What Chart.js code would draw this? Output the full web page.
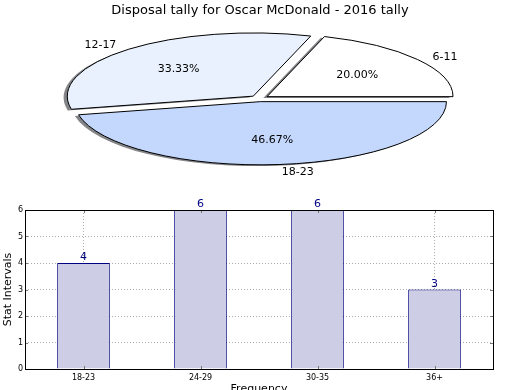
<!DOCTYPE html>
<html>
<head>
<meta charset="utf-8">
<script src="https://cdn.jsdelivr.net/npm/chart.js@4"></script>
<style>
  html, body { margin: 0; padding: 0; background: #fff; }
  body { width: 520px; height: 390px; overflow: hidden; position: relative; }
  #pieBox { position: absolute; left: 0; top: 0; width: 520px; height: 195px; }
  #barBox { position: absolute; left: 0; top: 195px; width: 520px; height: 215px; }
</style>
</head>
<body>
<div id="pieBox"><canvas id="pieChart"></canvas></div>
<div id="barBox"><canvas id="barChart"></canvas></div>
<script>
const pieTitle = "Disposal tally for Oscar McDonald - 2016 tally";
const pieLabels = ["6-11", "12-17", "18-23"];
const pieValues = [3, 5, 7];
const pieColors = ["#ffffff", "#eaf1fe", "#c4d8fe"];

const barLabels = ["18-23", "24-29", "30-35", "36+"];
const barValues = [4, 6, 6, 3];
const yTicks = [0, 1, 2, 3, 4, 5, 6];

Chart.defaults.font.family = "'DejaVu Sans', sans-serif";
Chart.defaults.color = "#000";

// where the squashed pie sits on the page
const PIE_CX = 259.5, PIE_CY = 98.5, PIE_RX = 186, PIE_RY = 63.2;
const EXPLODE = 0.05;   // slice pull-out, fraction of radius

function pieMap(arc, px, py) {
    // chart coords -> page coords, same stretch as the drawing
    const r = arc.outerRadius;
    return [PIE_CX + (px - arc.x) * PIE_RX / r, PIE_CY - (py - arc.y) * PIE_RY / r];
}

const squashPie = {
    id: "squashPie",
    beforeDatasetsDraw(chart) {
        const ctx = chart.ctx;
        const meta = chart.getDatasetMeta(0);
        const arc = meta.data[0];
        const r = arc.outerRadius;

        // pull each slice out along its middle angle (like matplotlib explode)
        meta.data.forEach(el => {
            if (el._plainDraw) return;
            el._plainDraw = el.draw;
            el.draw = function (c, area) {
                const mid = (this.startAngle + this.endAngle) / 2;
                const d = EXPLODE * this.outerRadius;
                c.save();
                c.translate(Math.cos(mid) * d, Math.sin(mid) * d);
                this._plainDraw(c, area);
                c.restore();
            };
        });

        ctx.save();
        ctx.translate(PIE_CX, PIE_CY);
        ctx.scale(PIE_RX / r, -PIE_RY / r);
        ctx.translate(-arc.x, -arc.y);
        ctx.shadowColor = "rgba(50, 52, 56, 0.6)";
        ctx.shadowOffsetX = -0.02 * PIE_RX;
        ctx.shadowOffsetY = 0.02 * PIE_RY;
        // keep outlines thin (and unshadowed) even though the pie is stretched
        ctx.stroke = function () {
            this.save();
            this.setTransform(1, 0, 0, 1, 0, 0);
            this.shadowColor = "rgba(0, 0, 0, 0)";
            CanvasRenderingContext2D.prototype.stroke.call(this);
            this.restore();
        };
    },
    afterDatasetsDraw(chart) {
        const ctx = chart.ctx;
        delete ctx.stroke;
        ctx.restore();

        const meta = chart.getDatasetMeta(0);
        const total = pieValues.reduce((a, b) => a + b, 0);
        ctx.save();
        ctx.fillStyle = "#000";
        ctx.font = "11px 'DejaVu Sans'";
        ctx.textBaseline = "middle";
        meta.data.forEach((arc, i) => {
            const mid = (arc.startAngle + arc.endAngle) / 2;
            const at = d => pieMap(arc,
                arc.x + Math.cos(mid) * (d + EXPLODE) * arc.outerRadius,
                arc.y + Math.sin(mid) * (d + EXPLODE) * arc.outerRadius);
            const [lx, ly] = at(1.1);
            ctx.textAlign = Math.cos(mid) > 0 ? "left" : "right";
            ctx.fillText(pieLabels[i], lx, ly + 1);
            const [px, py] = at(0.6);
            ctx.textAlign = "center";
            ctx.fillText((pieValues[i] / total * 100).toFixed(2) + "%", px, py + 1);
        });
        ctx.restore();
    }
};

new Chart(document.getElementById("pieChart"), {
    type: "pie",
    data: {
        labels: pieLabels,
        datasets: [{
            data: pieValues,
            backgroundColor: pieColors,
            borderColor: "#000",
            borderWidth: 1,
            clip: false
        }]
    },
    options: {
        responsive: true,
        maintainAspectRatio: false,
        animation: false,
        events: [],
        rotation: 90,
        layout: { padding: 0 },
        plugins: {
            legend: { display: false },
            tooltip: { enabled: false },
            title: {
                display: true,
                text: pieTitle,
                color: "#000",
                font: { size: 13, weight: "normal" },
                padding: { top: 3, bottom: 4 }
            }
        }
    },
    plugins: [squashPie]
});

// black box round the plot, small inward ticks, value labels over bars
const barExtras = {
    id: "barExtras",
    afterDraw(chart) {
        const { ctx, chartArea: a, scales } = chart;
        ctx.save();
        ctx.strokeStyle = "#777";
        ctx.lineWidth = 1;
        ctx.beginPath();
        yTicks.forEach(v => {
            const y = Math.round(scales.y.getPixelForValue(v)) + 0.5;
            ctx.moveTo(a.left, y); ctx.lineTo(a.left + 3, y);
            ctx.moveTo(a.right, y); ctx.lineTo(a.right - 3, y);
        });
        barLabels.forEach((_, i) => {
            const x = Math.round(scales.x.getPixelForValue(i)) + 0.5;
            ctx.moveTo(x, a.bottom); ctx.lineTo(x, a.bottom - 3);
            ctx.moveTo(x, a.top); ctx.lineTo(x, a.top + 3);
        });
        ctx.stroke();

        ctx.strokeStyle = "#000";
        ctx.strokeRect(a.left + 0.5, a.top + 0.5, a.right - a.left, a.bottom - a.top);

        ctx.fillStyle = "#000080";
        ctx.font = "11px 'DejaVu Sans'";
        ctx.textAlign = "center";
        ctx.textBaseline = "bottom";
        chart.getDatasetMeta(0).data.forEach((bar, i) => {
            ctx.fillText(String(barValues[i]), bar.x, bar.y);
        });
        ctx.restore();
    }
};

const gridStyle = { color: "#aaaaaa", lineWidth: 1, drawTicks: false };

new Chart(document.getElementById("barChart"), {
    type: "bar",
    data: {
        labels: barLabels,
        datasets: [{
            data: barValues,
            backgroundColor: "#cdcde5",
            borderColor: "#000080",
            borderWidth: 1,
            barPercentage: 0.45,
            categoryPercentage: 1
        }]
    },
    options: {
        responsive: true,
        maintainAspectRatio: false,
        animation: false,
        events: [],
        layout: { padding: { top: 15, right: 27, left: 0, bottom: 0 } },
        plugins: {
            legend: { display: false },
            tooltip: { enabled: false }
        },
        scales: {
            x: {
                z: 1,
                grid: { ...gridStyle, offset: false },
                border: { display: false, dash: [1, 2] },
                ticks: { font: { size: 8 }, padding: 4, maxRotation: 0 },
                title: {
                    display: true,
                    text: "Frequency",
                    font: { size: 11 },
                    padding: { top: 0, bottom: 14 }
                },
                afterFit(scale) { scale.height = 41; }
            },
            y: {
                z: 1,
                min: 0,
                max: 6,
                grid: gridStyle,
                border: { display: false, dash: [1, 2] },
                ticks: { stepSize: 1, font: { size: 8 }, padding: 2 },
                title: {
                    display: true,
                    text: "Stat Intervals",
                    font: { size: 11 },
                    padding: { top: 2, bottom: 0 }
                },
                afterFit(scale) { scale.width = 25; }
            }
        }
    },
    plugins: [barExtras]
});
</script>
</body>
</html>
